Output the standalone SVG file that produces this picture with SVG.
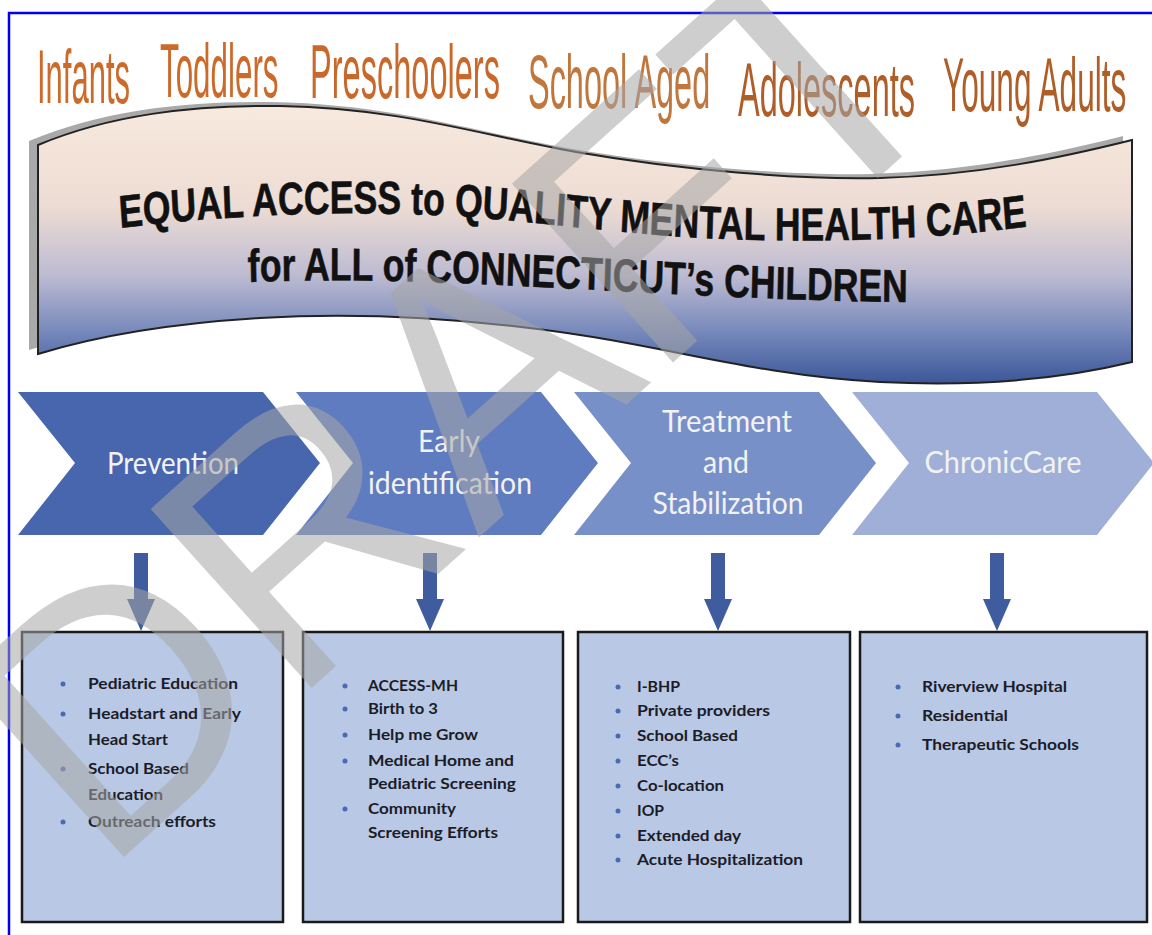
<svg xmlns="http://www.w3.org/2000/svg" width="1152" height="935" viewBox="0 0 1152 935">
<defs>
<linearGradient id="bannerGrad" gradientUnits="userSpaceOnUse" x1="0" y1="110" x2="0" y2="385">
<stop offset="0" stop-color="#f7e9de"/>
<stop offset="0.35" stop-color="#eddcd3"/>
<stop offset="0.6" stop-color="#bdbbd2"/>
<stop offset="0.82" stop-color="#7285b9"/>
<stop offset="1" stop-color="#3a5598"/>
</linearGradient>
<path id="bannerShape" d="M 38,145 C 110,115 190,105 280,106 C 400,108 480,135 576,152 C 680,170 800,180 880,178 C 980,175 1060,158 1132,140 L 1132,362 C 1050,382 960,386 880,382 C 760,376 660,345 560,332 C 460,318 360,312 260,318 C 160,324 90,338 38,354 Z"/>
<path id="line1" d="M 154.8,228 C 322.6,212 490.3,210 619.4,218 C 748.4,226 838.7,238 980.6,240 C 1135.5,242 1238.7,236 1348.4,224"/>
<path id="line2" d="M 320,282 C 451.6,278 580.6,282 722.6,288 C 877.4,294 1032.3,302 1200,302"/>
<style>
.age{font-family:"Liberation Sans",Arial,sans-serif;font-size:76px;}
.title{font-family:"Liberation Sans",Arial,sans-serif;font-weight:bold;font-size:46px;fill:#111;stroke:#111;stroke-width:0.6px;}
.chev{font-family:Lato,"Open Sans",sans-serif;font-size:30px;fill:#f2f2f2;text-anchor:middle;}
.box{fill:#b9c9e5;stroke:#1a1a1a;stroke-width:2.5;}
.item{font-family:Lato,"Open Sans",sans-serif;font-weight:bold;font-size:16px;fill:#1c1c28;}
.bul{fill:#4a6ab4;}
.arrow{fill:#3f5c9e;}
</style>
</defs>
<rect x="9" y="13" width="1160" height="940" fill="#ffffff" stroke="#0000ee" stroke-width="2.5"/>

<g id="ages">
<text class="age" transform="translate(37,103) scale(0.4076,1)" fill="#cc6a2a">Infants</text>
<text class="age" transform="translate(160,97) scale(0.4127,1)" fill="#cc6a2a">Toddlers</text>
<text class="age" transform="translate(310,98) scale(0.4284,1)" fill="#c8682a">Preschoolers</text>
<text class="age" transform="translate(528,108) scale(0.427,1)" fill="#c0773e">School Aged</text>
<text class="age" transform="translate(738,116) scale(0.4275,1)" fill="#b05e28">Adolescents</text>
<text class="age" transform="translate(943,111) scale(0.416,1)" fill="#b05e28">Young Adults</text>
</g>

<g id="banner">
<use href="#bannerShape" fill="#a9a9a9" transform="translate(-9,-4)"/>
<use href="#bannerShape" fill="url(#bannerGrad)" stroke="#222" stroke-width="2"/>
<text class="title" transform="scale(0.775,1)"><textPath href="#line1">EQUAL ACCESS to QUALITY MENTAL HEALTH CARE</textPath></text>
<text class="title" transform="scale(0.775,1)"><textPath href="#line2">for ALL of CONNECTICUT’s CHILDREN</textPath></text>
</g>

<g id="prevention">
<polygon points="18,392 263,392 320,463 263,535 18,535 75,463" fill="#4766ae"/>
<text class="chev" x="173" y="474" textLength="132" lengthAdjust="spacingAndGlyphs">Prevention</text>
</g>
<g id="early-identification">
<polygon points="296,392 541,392 598,463 541,535 296,535 353,463" fill="#5f7cc0"/>
<text class="chev" x="449" y="452" textLength="62" lengthAdjust="spacingAndGlyphs">Early</text>
<text class="chev" x="450" y="494" textLength="164" lengthAdjust="spacingAndGlyphs">identification</text>
</g>
<g id="treatment">
<polygon points="574,392 819,392 876,463 819,535 574,535 631,463" fill="#7890c8"/>
<text class="chev" x="727" y="432" textLength="130" lengthAdjust="spacingAndGlyphs">Treatment</text>
<text class="chev" x="726" y="473" textLength="46" lengthAdjust="spacingAndGlyphs">and</text>
<text class="chev" x="728" y="514" textLength="151" lengthAdjust="spacingAndGlyphs">Stabilization</text>
</g>
<g id="chronic-care">
<polygon points="852,392 1097,392 1154,463 1097,535 852,535 909,463" fill="#9fafd7"/>
<text class="chev" x="1003" y="473" textLength="157" lengthAdjust="spacingAndGlyphs">ChronicCare</text>
</g>

<g id="connectors">
<path class="arrow" d="M 134,553 H 148 V 599 H 155 L 141,631 L 127,599 H 134 Z"/>
<path class="arrow" d="M 423,553 H 437 V 599 H 444 L 430,631 L 416,599 H 423 Z"/>
<path class="arrow" d="M 711,553 H 725 V 599 H 732 L 718,631 L 704,599 H 711 Z"/>
<path class="arrow" d="M 990,553 H 1004 V 599 H 1011 L 997,631 L 983,599 H 990 Z"/>
</g>

<g id="box-prevention">
<rect class="box" x="22" y="632" width="261" height="290"/>
<circle class="bul" cx="63" cy="684" r="2.5"/>
<circle class="bul" cx="63" cy="714" r="2.5"/>
<circle class="bul" cx="63" cy="769" r="2.5"/>
<circle class="bul" cx="63" cy="822" r="2.5"/>
<text class="item" x="88" y="689" textLength="150" lengthAdjust="spacingAndGlyphs">Pediatric Education</text>
<text class="item" x="88" y="719" textLength="153" lengthAdjust="spacingAndGlyphs">Headstart and Early</text>
<text class="item" x="88" y="745" textLength="80" lengthAdjust="spacingAndGlyphs">Head Start</text>
<text class="item" x="88" y="774" textLength="101" lengthAdjust="spacingAndGlyphs">School Based</text>
<text class="item" x="88" y="800" textLength="75" lengthAdjust="spacingAndGlyphs">Education</text>
<text class="item" x="88" y="827" textLength="128" lengthAdjust="spacingAndGlyphs">Outreach efforts</text>
</g>

<g id="box-early">
<rect class="box" x="303" y="632" width="260" height="290"/>
<circle class="bul" cx="345" cy="686" r="2.5"/>
<circle class="bul" cx="345" cy="709" r="2.5"/>
<circle class="bul" cx="345" cy="735" r="2.5"/>
<circle class="bul" cx="345" cy="761" r="2.5"/>
<circle class="bul" cx="345" cy="809" r="2.5"/>
<text class="item" x="368" y="691" textLength="90" lengthAdjust="spacingAndGlyphs">ACCESS-MH</text>
<text class="item" x="368" y="714" textLength="70" lengthAdjust="spacingAndGlyphs">Birth to 3</text>
<text class="item" x="368" y="740" textLength="110" lengthAdjust="spacingAndGlyphs">Help me Grow</text>
<text class="item" x="368" y="766" textLength="146" lengthAdjust="spacingAndGlyphs">Medical Home and</text>
<text class="item" x="368" y="789" textLength="148" lengthAdjust="spacingAndGlyphs">Pediatric Screening</text>
<text class="item" x="368" y="814" textLength="88" lengthAdjust="spacingAndGlyphs">Community</text>
<text class="item" x="368" y="838" textLength="130" lengthAdjust="spacingAndGlyphs">Screening Efforts</text>
</g>

<g id="box-treatment">
<rect class="box" x="578" y="632" width="272" height="290"/>
<circle class="bul" cx="618" cy="687" r="2.5"/>
<circle class="bul" cx="618" cy="711" r="2.5"/>
<circle class="bul" cx="618" cy="736" r="2.5"/>
<circle class="bul" cx="618" cy="761" r="2.5"/>
<circle class="bul" cx="618" cy="786" r="2.5"/>
<circle class="bul" cx="618" cy="811" r="2.5"/>
<circle class="bul" cx="618" cy="836" r="2.5"/>
<circle class="bul" cx="618" cy="860" r="2.5"/>
<text class="item" x="637" y="692" textLength="43" lengthAdjust="spacingAndGlyphs">I-BHP</text>
<text class="item" x="637" y="716" textLength="133" lengthAdjust="spacingAndGlyphs">Private providers</text>
<text class="item" x="637" y="741" textLength="101" lengthAdjust="spacingAndGlyphs">School Based</text>
<text class="item" x="637" y="766" textLength="42" lengthAdjust="spacingAndGlyphs">ECC’s</text>
<text class="item" x="637" y="791" textLength="87" lengthAdjust="spacingAndGlyphs">Co-location</text>
<text class="item" x="637" y="816" textLength="27" lengthAdjust="spacingAndGlyphs">IOP</text>
<text class="item" x="637" y="841" textLength="104" lengthAdjust="spacingAndGlyphs">Extended day</text>
<text class="item" x="637" y="865" textLength="166" lengthAdjust="spacingAndGlyphs">Acute Hospitalization</text>
</g>

<g id="box-chronic">
<rect class="box" x="860" y="632" width="287" height="290"/>
<circle class="bul" cx="898" cy="687" r="2.5"/>
<circle class="bul" cx="898" cy="716" r="2.5"/>
<circle class="bul" cx="898" cy="745" r="2.5"/>
<text class="item" x="922" y="692" textLength="145" lengthAdjust="spacingAndGlyphs">Riverview Hospital</text>
<text class="item" x="922" y="721" textLength="86" lengthAdjust="spacingAndGlyphs">Residential</text>
<text class="item" x="922" y="750" textLength="157" lengthAdjust="spacingAndGlyphs">Therapeutic Schools</text>
</g>

<g id="watermark">
<text x="0" y="0" font-family="Liberation Sans, sans-serif" font-size="350" text-anchor="middle" fill="#a6a6a6" fill-opacity="0.55" transform="translate(536,486) rotate(-42)">DRAFT</text>
</g>
</svg>
